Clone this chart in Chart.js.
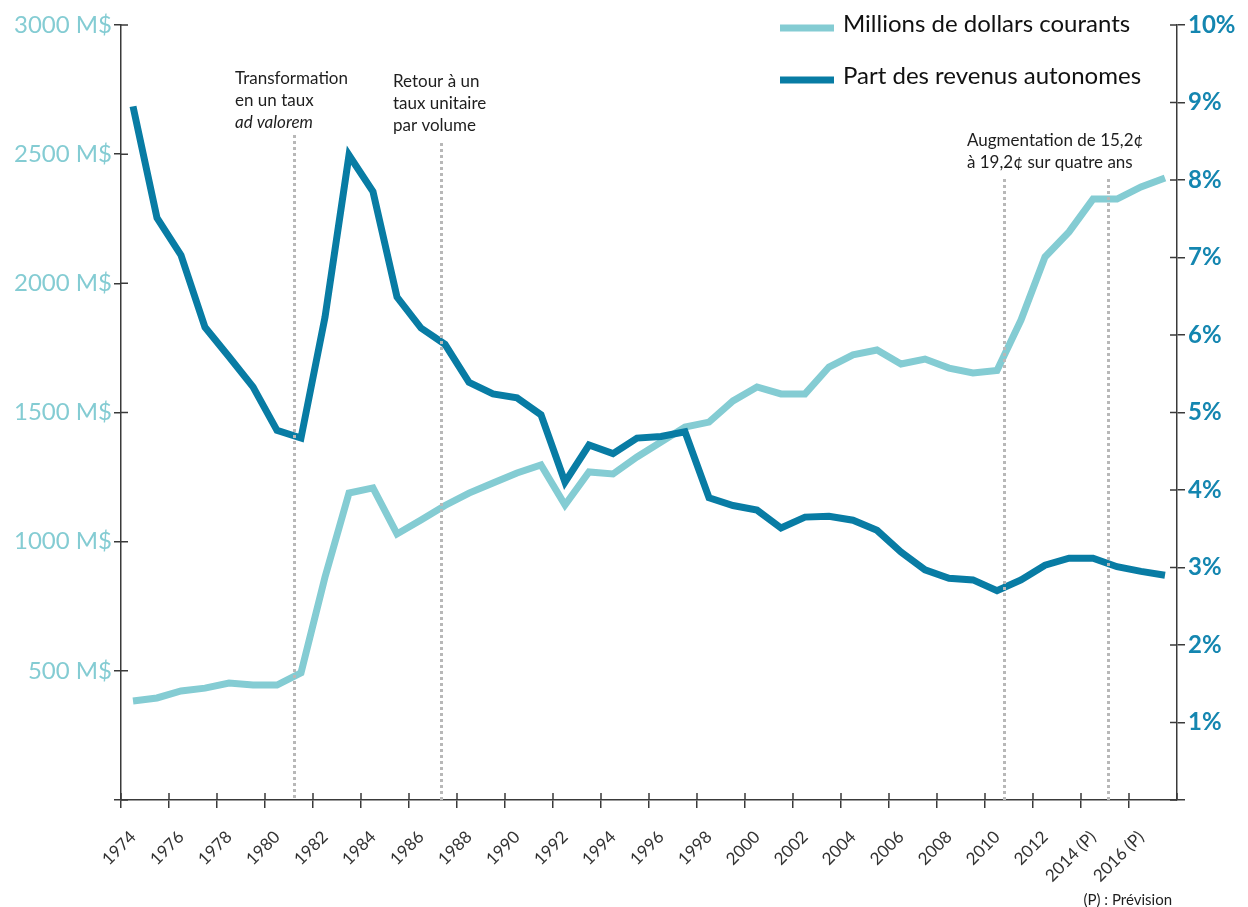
<!DOCTYPE html>
<html lang="fr">
<head>
<meta charset="utf-8">
<title>Revenus de la taxe sur les carburants</title>
<script src="https://cdn.jsdelivr.net/npm/chart.js@4.4.1/dist/chart.umd.min.js"></script>
<style>
  html, body { margin: 0; padding: 0; background: #fff; }
  #wrap { position: relative; width: 1248px; height: 907px; }
</style>
</head>
<body>
<div id="wrap"><canvas id="chart" width="1248" height="907"></canvas></div>
<script>
// =====================
// DONNÉES
// =====================
const years = [
  '1974', '1975', '1976', '1977', '1978', '1979', '1980', '1981', '1982', '1983',
  '1984', '1985', '1986', '1987', '1988', '1989', '1990', '1991', '1992', '1993',
  '1994', '1995', '1996', '1997', '1998', '1999', '2000', '2001', '2002', '2003',
  '2004', '2005', '2006', '2007', '2008', '2009', '2010', '2011', '2012', '2013',
  '2014 (P)', '2015 (P)', '2016 (P)', '2017 (P)'
];

// Millions de dollars courants (axe de gauche)
const millions = [
  383, 395, 422, 433, 453, 445, 445, 492, 863, 1188,
  1208, 1030, 1084, 1140, 1188, 1227, 1266, 1297, 1142, 1270,
  1262, 1328, 1386, 1444, 1463, 1545, 1599, 1572, 1572, 1676,
  1723, 1742, 1688, 1707, 1672, 1653, 1663, 1858, 2102, 2199,
  2326, 2326, 2373, 2408
];

// Part des revenus autonomes, en % (axe de droite)
const partRevenus = [
  8.95, 7.51, 7.03, 6.10, 5.72, 5.33, 4.77, 4.67, 6.23, 8.32,
  7.85, 6.49, 6.09, 5.88, 5.39, 5.24, 5.19, 4.97, 4.10, 4.58,
  4.47, 4.67, 4.69, 4.75, 3.90, 3.80, 3.74, 3.51, 3.65, 3.66,
  3.61, 3.48, 3.20, 2.97, 2.86, 2.84, 2.70, 2.84, 3.03, 3.12,
  3.12, 3.01, 2.95, 2.90
];

const leftTicks = [500, 1000, 1500, 2000, 2500, 3000];
const rightTicks = [1, 2, 3, 4, 5, 6, 7, 8, 9, 10];

// événements (position sur l'axe des années, entre deux catégories)
const eventPositions = [6.71, 12.83, 36.29, 40.63];
const eventNotes = [
  ['Transformation', 'en un taux', '_ad valorem'],
  ['Retour à un', 'taux unitaire', 'par volume'],
  ['Augmentation de 15,2¢', 'à 19,2¢ sur quatre ans'],
  []
];

const seriesNames = ['Millions de dollars courants', 'Part des revenus autonomes'];
const footNote = '(P) : Prévision';

// =====================
// STYLE
// =====================
const LIGHT = '#84ccd3';
const DARK = '#087ca4';
const AXIS = '#3a3a3a';
const DOTS = '#b8b8b8';
const TEXT = '#1e1e1e';
const FONT = 'Lato, "Open Sans", sans-serif';

const eventTops = [135, 143, 179, 179];
const noteLayout = [
  { dx: -59, y: 84 },
  { dx: -48, y: 87 },
  { dx: -37, y: 146 },
  { dx: 0, y: 0 }
];

const overlay = {
  id: 'overlay',
  afterDraw(chart) {
    const { ctx, chartArea, scales } = chart;
    const x = scales.x, yM = scales.yM, yP = scales.yP;
    ctx.save();

    // moitié intérieure des graduations (elles croisent les axes)
    ctx.strokeStyle = AXIS;
    ctx.lineWidth = 1.5;
    ctx.beginPath();
    yM.ticks.forEach(t => {
      const py = yM.getPixelForValue(t.value);
      ctx.moveTo(chartArea.left, py); ctx.lineTo(chartArea.left + 7, py);
    });
    yP.ticks.forEach(t => {
      const py = yP.getPixelForValue(t.value);
      ctx.moveTo(chartArea.right, py); ctx.lineTo(chartArea.right - 7, py);
    });
    for (let i = 0; i <= years.length; i += 2) {
      const px = x.getPixelForValue(i - 0.5);
      ctx.moveTo(px, chartArea.bottom); ctx.lineTo(px, chartArea.bottom - 7);
    }
    ctx.stroke();

    // lignes pointillées des événements
    ctx.setLineDash([3, 3]);
    ctx.strokeStyle = DOTS;
    ctx.lineWidth = 3;
    eventPositions.forEach((p, k) => {
      const px = Math.round(x.getPixelForValue(p)) + 0.5;
      ctx.beginPath();
      ctx.moveTo(px, eventTops[k]);
      ctx.lineTo(px, chartArea.bottom);
      ctx.stroke();
    });
    ctx.setLineDash([]);

    // textes des événements
    ctx.fillStyle = TEXT;
    ctx.textAlign = 'left';
    ctx.textBaseline = 'alphabetic';
    eventNotes.forEach((lines, k) => {
      const px = x.getPixelForValue(eventPositions[k]) + noteLayout[k].dx;
      lines.forEach((line, j) => {
        const italic = line.startsWith('_');
        ctx.font = (italic ? 'italic ' : '') + '17px ' + FONT;
        ctx.fillText(italic ? line.slice(1) : line, px, noteLayout[k].y + j * 22);
      });
    });

    // légende
    const colors = [LIGHT, DARK];
    ctx.font = '24px ' + FONT;
    seriesNames.forEach((name, k) => {
      const ly = 28 + k * 52;
      ctx.strokeStyle = colors[k];
      ctx.lineWidth = 7;
      ctx.beginPath();
      ctx.moveTo(780, ly); ctx.lineTo(834, ly);
      ctx.stroke();
      ctx.fillStyle = '#111';
      ctx.fillText(name, 843, ly + 4);
    });

    // note de bas de page
    ctx.font = '15px ' + FONT;
    ctx.textAlign = 'right';
    ctx.fillStyle = TEXT;
    ctx.fillText(footNote, 1172, 905);

    ctx.restore();
  }
};

new Chart(document.getElementById('chart'), {
  type: 'line',
  data: {
    labels: years,
    datasets: [
      {
        label: seriesNames[0],
        data: millions,
        yAxisID: 'yM',
        borderColor: LIGHT,
        borderWidth: 7,
        pointRadius: 0,
        tension: 0,
        fill: false,
        order: 1
      },
      {
        label: seriesNames[1],
        data: partRevenus,
        yAxisID: 'yP',
        borderColor: DARK,
        borderWidth: 7,
        pointRadius: 0,
        tension: 0,
        fill: false,
        order: 0
      }
    ]
  },
  options: {
    responsive: false,
    animation: false,
    devicePixelRatio: 1,
    layout: { padding: { top: 25, left: 0, right: 0, bottom: 0 } },
    plugins: { legend: { display: false }, tooltip: { enabled: false } },
    scales: {
      x: {
        type: 'category',
        offset: true,
        grid: {
          offset: true,
          drawOnChartArea: false,
          tickLength: 8,
          lineWidth: 1.5,
          color: c => c.index % 2 === 0 ? AXIS : 'rgba(0,0,0,0)'
        },
        border: { color: AXIS, width: 1.5 },
        ticks: {
          autoSkip: false,
          minRotation: 45,
          maxRotation: 45,
          padding: 19,
          color: '#333',
          font: { family: FONT, size: 17 },
          callback: (v, i) => i % 2 === 0 ? years[i] : ''
        },
        afterFit: s => { s.height = 107; }
      },
      yM: {
        position: 'left',
        min: 0,
        max: 3000,
        afterBuildTicks: s => { s.ticks = [0, ...leftTicks].map(v => ({ value: v })); },
        grid: { drawOnChartArea: false, tickLength: 7, lineWidth: 1.5, color: AXIS },
        border: { color: AXIS, width: 1.5 },
        ticks: {
          padding: 2,
          color: LIGHT,
          font: { family: FONT, size: 24 },
          callback: v => v === 0 ? '' : v + ' M$'
        },
        afterFit: s => { s.width = 121; }
      },
      yP: {
        position: 'right',
        min: 0,
        max: 10,
        afterBuildTicks: s => { s.ticks = [0, ...rightTicks].map(v => ({ value: v })); },
        grid: { drawOnChartArea: false, tickLength: 8, lineWidth: 1.5, color: AXIS },
        border: { color: AXIS, width: 1.5 },
        ticks: {
          padding: 3,
          color: '#1486b0',
          font: { family: FONT, size: 24, weight: 'bold' },
          callback: v => v === 0 ? '' : v + '%'
        },
        afterFit: s => { s.width = 71; }
      }
    }
  },
  plugins: [overlay]
});
</script>
</body>
</html>
